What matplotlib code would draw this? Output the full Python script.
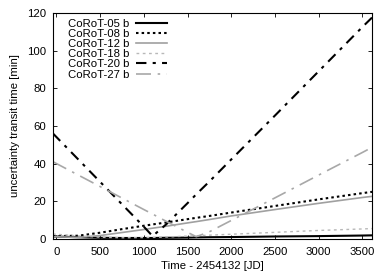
import matplotlib
matplotlib.use("Agg")
import matplotlib.pyplot as plt

plt.rcParams['font.family'] = ['Liberation Sans', 'DejaVu Sans']

time = [-40, 250, 500, 750, 1000, 1100, 1250, 1500, 1600, 1750, 2000, 2500, 3000, 3500, 3610]
corot05 = [1.3, 0.9, 0.6, 0.5, 0.5, 0.5, 0.6, 0.7, 0.8, 0.9, 1.0, 1.3, 1.5, 1.8, 1.9]
corot08 = [1.5, 1.7, 3.3, 5.2, 7.0, 7.7, 8.7, 10.5, 11.2, 12.2, 14.0, 17.5, 21.0, 24.3, 25.0]
corot12 = [1.2, 0.8, 1.8, 3.4, 5.0, 5.7, 6.7, 8.5, 9.2, 10.3, 12.2, 15.6, 18.9, 22.0, 22.6]
corot18 = [2.6, 1.6, 0.9, 0.6, 0.7, 0.8, 1.0, 1.5, 1.7, 2.0, 2.5, 3.5, 4.5, 5.3, 5.5]
corot20 = [56.0, 42.2, 30.3, 18.4, 6.5, 1.5, 7.5, 19.0, 23.7, 30.5, 42.2, 65.5, 89.0, 112.5, 117.5]
corot27 = [41.0, 33.9, 27.8, 21.7, 15.6, 13.2, 9.5, 3.5, 1.2, 3.8, 9.8, 21.8, 33.9, 45.9, 48.6]

labels = ["CoRoT-05 b", "CoRoT-08 b", "CoRoT-12 b", "CoRoT-18 b", "CoRoT-20 b", "CoRoT-27 b"]
xticks = [0, 500, 1000, 1500, 2000, 2500, 3000, 3500]
yticks = [0, 20, 40, 60, 80, 100, 120]

fs = 8.2
fig = plt.figure(figsize=(3.92, 2.74), dpi=100)
ax = fig.add_axes([0.135, 0.128, 0.814, 0.825])

ax.plot(time, corot05, color='black', lw=1.5, ls='-', label=labels[0])
ax.plot(time, corot08, color='black', lw=1.5, ls=(0, (1.2, 1.5)), label=labels[1])
ax.plot(time, corot12, color='#a0a0a0', lw=1.2, ls='-', label=labels[2])
ax.plot(time, corot18, color='#b8b8b8', lw=1.0, ls=(0, (2, 2.5)), label=labels[3])
ax.plot(time, corot20, color='black', lw=1.5, ls=(0, (5, 3, 1.5, 3)), label=labels[4])
ax.plot(time, corot27, color='#a8a8a8', lw=1.2, ls=(0, (9, 4, 1.5, 4)), label=labels[5])

ax.set_xlim(-40, 3610)
ax.set_ylim(0, 120)
ax.set_xticks(xticks)
ax.set_yticks(yticks)
ax.tick_params(direction='in', top=True, right=True, labelsize=fs, length=3, width=0.6, colors='black')
ax.tick_params(axis='x', pad=6)
ax.tick_params(axis='y', pad=5)
for s in ax.spines.values():
    s.set_linewidth(0.8)
ax.set_xlabel("Time - 2454132 [JD]", fontsize=fs, labelpad=3)
ax.set_ylabel("uncertainty transit time [min]", fontsize=fs, labelpad=5)

leg = ax.legend(loc='upper left', frameon=False, markerfirst=False, fontsize=fs,
                handlelength=2.7, handletextpad=0.6, labelspacing=0.02,
                borderaxespad=0.1, bbox_to_anchor=(0.03, 1.0))

fig.savefig("out.png", dpi=100)
